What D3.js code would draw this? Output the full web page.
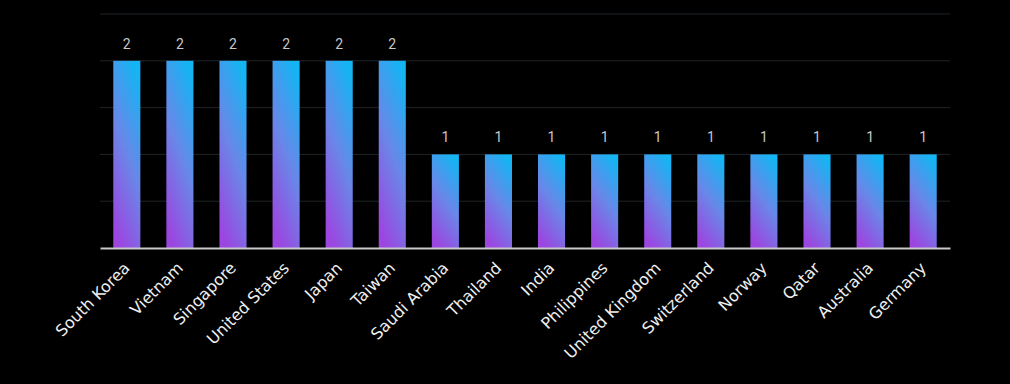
<!DOCTYPE html>
<head>
  <meta charset="utf-8">
  <title>Countries bar chart</title>
  <script type="text/javascript" src="https://d3js.org/d3.v7.min.js"></script>
  <style type="text/css">
  body {
      margin: 0;
      background: #000;
    }
  .label {
      font-family: "DejaVu Sans", sans-serif;
      font-size: 16px;
      fill: #f0f0f0;
    }
  .value {
      font-family: Roboto, sans-serif;
      font-size: 14px;
      fill: #c8c8c8;
    }
  </style>
</head>
<body>
  <script type="text/javascript">

    // Data
    var countries = ["South Korea", "Vietnam", "Singapore", "United States", "Japan", "Taiwan",
      "Saudi Arabia", "Thailand", "India", "Philippines", "United Kingdom", "Switzerland",
      "Norway", "Qatar", "Australia", "Germany"];
    var counts = [2, 2, 2, 2, 2, 2, 1, 1, 1, 1, 1, 1, 1, 1, 1, 1];
    var gridTicks = [0, 0.5, 1, 1.5, 2, 2.5];

    var dataset = countries.map(function(c, i) { return {country: c, value: counts[i]}; });

    // Set margins
    var margin = {top: 14, right: 60, bottom: 136, left: 100},
      width = 1010 - margin.left - margin.right,
      height = 384 - margin.top - margin.bottom;

    // Scale x and y values
    var x = d3.scaleBand()
      .range([0, width])
      .domain(countries)
      .paddingInner(0.49)
      .paddingOuter(0.25);

    var y = d3.scaleLinear()
      .domain([0, 2.5])
      .range([height, 0]);

    // Create Scalable Vector Graphic
    var root = d3.select("body").append("svg")
      .attr("width", 1010)
      .attr("height", 384);

    var defs = root.append("defs");
    var grad = defs.append("linearGradient")
      .attr("id", "barGrad")
      .attr("x1", "0.3").attr("y1", "1")
      .attr("x2", "0.7").attr("y2", "0");
    grad.append("stop").attr("offset", "0%").attr("stop-color", "#9b46e0");
    grad.append("stop").attr("offset", "50%").attr("stop-color", "#6a86e8");
    grad.append("stop").attr("offset", "100%").attr("stop-color", "#15b4f3");

    var svg = root.append("g")
      .attr("transform", "translate(" + margin.left + "," + margin.top + ")");

    // Gridlines
    svg.selectAll(".grid")
      .data(gridTicks.slice(1))
      .enter().append("line")
      .attr("x1", 0)
      .attr("x2", width)
      .attr("y1", function(d) { return y(d); })
      .attr("y2", function(d) { return y(d); })
      .attr("stroke", "#1f2428")
      .attr("stroke-width", 1);

    // Create bars
    svg.selectAll(".bar")
      .data(dataset)
      .enter().append("rect")
      .attr("class", "bar")
      .attr("x", function(d) { return x(d.country); })
      .attr("width", x.bandwidth())
      .attr("y", function(d) { return y(d.value); })
      .attr("height", function(d) { return height - y(d.value); })
      .attr("fill", "url(#barGrad)");

    // Value labels
    svg.selectAll(".value")
      .data(dataset)
      .enter().append("text")
      .attr("class", "value")
      .attr("text-anchor", "middle")
      .attr("x", function(d) { return x(d.country) + x.bandwidth() / 2; })
      .attr("y", function(d) { return y(d.value) - 12; })
      .text(function(d) { return d.value; });

    // Add x axis
    var xAxis = svg.append("g")
      .attr("transform", "translate(0," + height + ")")
      .call(d3.axisBottom(x).tickSize(0).tickPadding(0));

    xAxis.select(".domain")
      .attr("stroke", "#c8c8c8")
      .attr("stroke-width", 2);

    xAxis.selectAll("text")
      .attr("class", "label")
      .attr("text-anchor", "end")
      .attr("dy", null)
      .attr("y", 0)
      .attr("transform", "translate(4,21) rotate(-45)");

  </script>

</body>
</html>
